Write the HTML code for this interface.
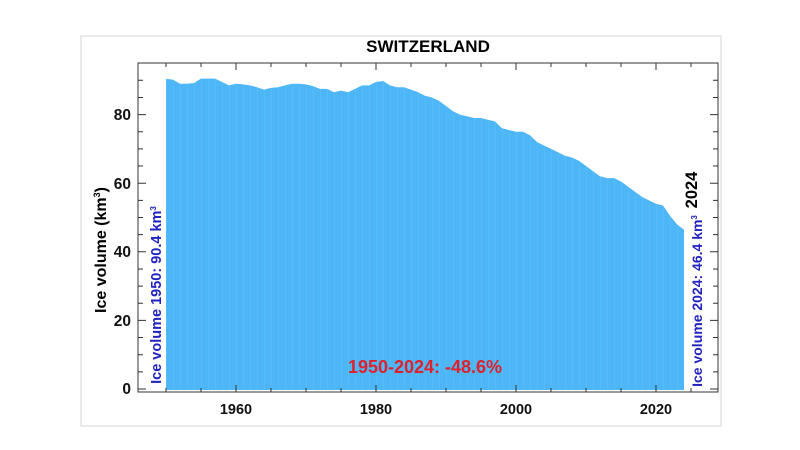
<!DOCTYPE html>
<html><head><meta charset="utf-8"><style>
html,body{margin:0;padding:0;background:#fff;}
svg{display:block;font-family:"Liberation Sans",Arial,sans-serif;font-weight:bold;}
</style></head><body>
<svg width="800" height="450" viewBox="0 0 800 450" xmlns="http://www.w3.org/2000/svg">
<defs>
<pattern id="vl" x="166" y="0" width="7" height="450" patternUnits="userSpaceOnUse">
<rect x="0" y="0" width="7" height="450" fill="#4db6f7"/>
<line x1="0.5" y1="0" x2="0.5" y2="450" stroke="#5bbcf8" stroke-width="0.8"/>
</pattern>
</defs>
<rect x="81" y="36" width="640" height="390" fill="none" stroke="#e4e4e4" stroke-width="1.5"/>
<text x="428" y="52" font-size="17" text-anchor="middle" fill="#000">SWITZERLAND</text>
<path fill="url(#vl)" d="M166,390 L166,78.9 L173,79.6 L180,83.7 L187,83.7 L194,83.0 L201,78.6 L208,78.6 L215,78.6 L222,82.0 L229,85.4 L236,83.7 L243,84.4 L250,85.4 L257,87.2 L264,89.6 L271,87.9 L278,87.2 L285,85.4 L292,83.7 L299,83.7 L306,84.4 L313,86.1 L320,88.9 L327,88.9 L334,92.3 L341,90.6 L348,92.3 L355,88.9 L362,85.4 L369,85.4 L376,82.0 L383,81.0 L390,85.4 L397,87.2 L404,87.2 L411,89.6 L418,92.3 L425,95.7 L432,97.5 L439,100.9 L446,106.0 L453,111.2 L460,114.6 L467,116.3 L474,118.0 L481,118.0 L488,119.7 L495,121.5 L502,128.3 L509,130.0 L516,131.8 L523,131.8 L530,135.2 L537,142.0 L544,145.5 L551,148.9 L558,152.3 L565,155.8 L572,157.5 L579,160.9 L586,166.0 L593,171.2 L600,176.3 L607,178.1 L614,178.1 L621,181.5 L628,186.6 L635,191.8 L642,196.9 L649,200.4 L656,203.8 L663,205.5 L670,215.8 L677,224.4 L684,229.8 L684,390 Z"/>
<rect x="138" y="63" width="580" height="329" fill="none" stroke="#333" stroke-width="1"/>
<path stroke="#333" stroke-width="1" fill="none" d="
M138,389h8 M138,371.85h5 M138,354.7h5 M138,337.55h5 M138,320.4h8 M138,303.25h5 M138,286.1h5 M138,268.95h5 M138,251.8h8 M138,234.65h5 M138,217.5h5 M138,200.35h5 M138,183.2h8 M138,166.05h5 M138,148.9h5 M138,131.75h5 M138,114.6h8 M138,97.45h5 M138,80.3h5
M718,389h-8 M718,371.85h-5 M718,354.7h-5 M718,337.55h-5 M718,320.4h-8 M718,303.25h-5 M718,286.1h-5 M718,268.95h-5 M718,251.8h-8 M718,234.65h-5 M718,217.5h-5 M718,200.35h-5 M718,183.2h-8 M718,166.05h-5 M718,148.9h-5 M718,131.75h-5 M718,114.6h-8 M718,97.45h-5 M718,80.3h-5
M166,392v-4 M201,392v-4 M236,392v-7 M271,392v-4 M306,392v-4 M341,392v-4 M376,392v-7 M411,392v-4 M446,392v-4 M481,392v-4 M516,392v-7 M551,392v-4 M586,392v-4 M621,392v-4 M656,392v-7 M691,392v-4
M166,63v4 M201,63v4 M236,63v7 M271,63v4 M306,63v4 M341,63v4 M376,63v7 M411,63v4 M446,63v4 M481,63v4 M516,63v7 M551,63v4 M586,63v4 M621,63v4 M656,63v7 M691,63v4"/>
<g font-size="15.5" text-anchor="end" fill="#111">
<text x="131" y="120">80</text><text x="131" y="189">60</text><text x="131" y="257">40</text><text x="131" y="326">20</text><text x="131" y="394">0</text>
</g>
<g font-size="14.5" text-anchor="middle" fill="#111">
<text x="236" y="414">1960</text><text x="376" y="414">1980</text><text x="516" y="414">2000</text><text x="656" y="414">2020</text>
</g>
<text transform="translate(106,250) rotate(-90)" font-size="16" text-anchor="middle" fill="#000">Ice volume (km<tspan font-size="9" dy="-6">3</tspan><tspan dy="6">)</tspan></text>
<text transform="translate(161,295) rotate(-90)" font-size="14.5" text-anchor="middle" fill="#2222c0">Ice volume 1950: 90.4 km<tspan font-size="8" dy="-5">3</tspan></text>
<text transform="translate(702,301) rotate(-90)" font-size="14" text-anchor="middle" fill="#2222c0">Ice volume 2024: 46.4 km<tspan font-size="8" dy="-5">3</tspan></text>
<text transform="translate(697,190) rotate(-90)" font-size="16.5" text-anchor="middle" fill="#000">2024</text>
<text x="425" y="373" font-size="18" text-anchor="middle" fill="#e0202a">1950-2024: -48.6%</text>
</svg>
</body></html>
